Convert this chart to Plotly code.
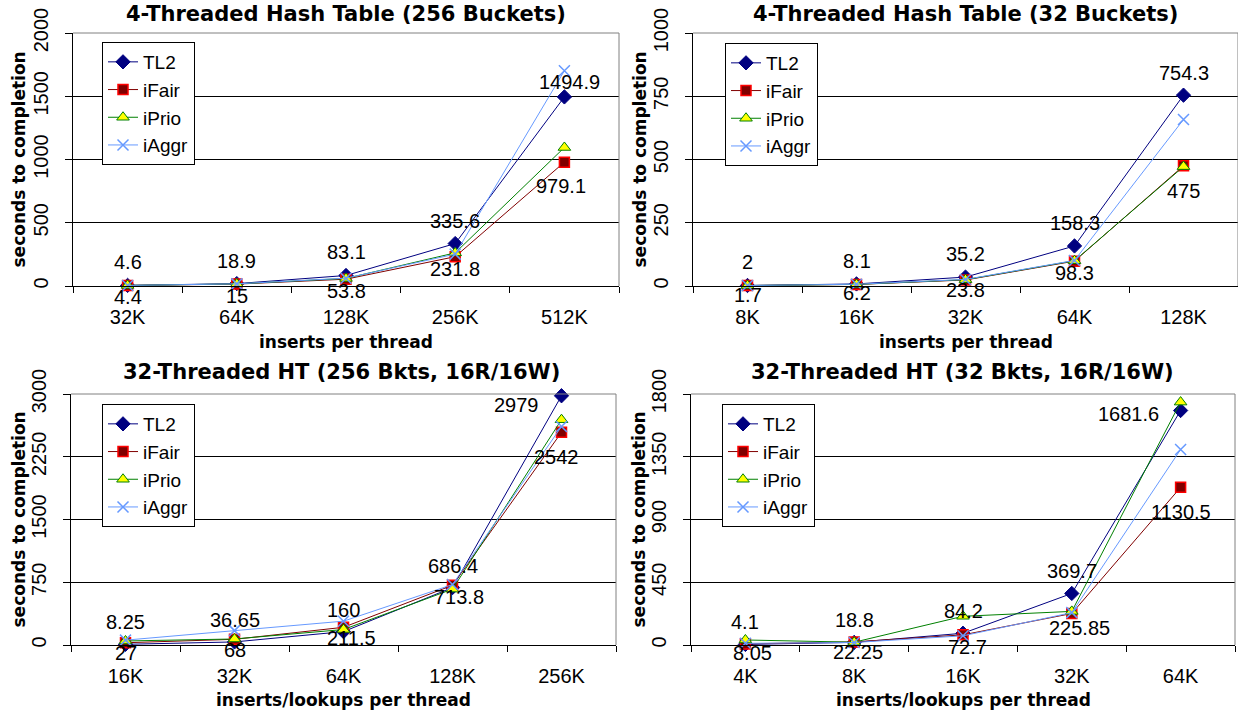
import plotly.graph_objects as go

# ---------------- data ----------------
series_names = ["TL2", "iFair", "iPrio", "iAggr"]

# Panel A: 4-Threaded Hash Table (256 Buckets)
cats_a = ["32K", "64K", "128K", "256K", "512K"]
tl2_a = [4.6, 18.9, 83.1, 335.6, 1494.9]
ifair_a = [4.4, 15, 53.8, 231.8, 979.1]
iprio_a = [4.5, 16.5, 60, 262, 1095]
iaggr_a = [4.5, 17, 62, 252, 1702]

# Panel B: 4-Threaded Hash Table (32 Buckets)
cats_b = ["8K", "16K", "32K", "64K", "128K"]
tl2_b = [2, 8.1, 35.2, 158.3, 754.3]
ifair_b = [1.7, 6.2, 23.8, 98.3, 475]
iprio_b = [1.8, 6.4, 25, 100, 472]
iaggr_b = [1.9, 7, 26, 101, 658]

# Panel C: 32-Threaded HT (256 Bkts, 16R/16W)
cats_c = ["16K", "32K", "64K", "128K", "256K"]
tl2_c = [8.25, 36.65, 160, 686.4, 2979]
ifair_c = [27, 68, 211.5, 713.8, 2542]
iprio_c = [48, 72, 185, 668, 2693]
iaggr_c = [58, 172, 285, 722, 2612]

# Panel D: 32-Threaded HT (32 Bkts, 16R/16W)
cats_d = ["4K", "8K", "16K", "32K", "64K"]
tl2_d = [4.1, 18.8, 84.2, 369.7, 1681.6]
ifair_d = [8.05, 22.25, 72.7, 225.85, 1130.5]
iprio_d = [36, 20, 206, 241, 1742]
iaggr_d = [12, 18, 66, 232, 1402]

y_tick_step = [500, 250, 750, 450]
y_max = [2000, 1000, 3000, 1800]

# ---------------- styles / layout ----------------
W, H = 1238, 715
ARIAL = "Liberation Sans, Arial, sans-serif"
VERD = "DejaVu Sans, Verdana, sans-serif"

styles = {
    "TL2": dict(line=dict(color="#000080", width=1),
                marker=dict(symbol="diamond", size=11, color="#000080",
                            line=dict(color="#000080", width=1))),
    "iFair": dict(line=dict(color="#800000", width=1),
                  marker=dict(symbol="square", size=10, color="#800000",
                              line=dict(color="#FF0000", width=1.5))),
    "iPrio": dict(line=dict(color="#008000", width=1),
                  marker=dict(symbol="triangle-up", size=11, color="#FFFF00",
                              line=dict(color="#008000", width=1))),
    "iAggr": dict(line=dict(color="#6699FF", width=1),
                  marker=dict(symbol="x-thin", size=11, color="#6699FF",
                              line=dict(color="#6699FF", width=1.5))),
}

panels = [
    dict(title="4-Threaded Hash Table (256 Buckets)", xtitle="inserts per thread",
         cats=cats_a, data=[tl2_a, ifair_a, iprio_a, iaggr_a],
         box=(73, 619, 33, 286), title_xy=(346, 14), ytitle_x=18, xtitle_y=342,
         legend_xy=(102, 42),
         tl2_off=[(0, 23)] * 4 + [(5, 15)],
         ifair_off=[(0, -12)] * 4 + [(-3, -24)]),
    dict(title="4-Threaded Hash Table (32 Buckets)", xtitle="inserts per thread",
         cats=cats_b, data=[tl2_b, ifair_b, iprio_b, iaggr_b],
         box=(693, 1238, 33, 286), title_xy=(965, 14), ytitle_x=639, xtitle_y=342,
         legend_xy=(725, 43),
         tl2_off=[(0, 23)] * 4 + [(0, 22)],
         ifair_off=[(0, -9), (0, -9), (0, -10), (0, -12), (0, -25)]),
    dict(title="32-Threaded HT (256 Bkts, 16R/16W)", xtitle="inserts/lookups per thread",
         cats=cats_c, data=[tl2_c, ifair_c, iprio_c, iaggr_c],
         box=(71, 616, 394, 645), title_xy=(341, 372), ytitle_x=18, xtitle_y=700,
         legend_xy=(102, 404),
         tl2_off=[(0, 22)] * 4 + [(-45, -9)],
         ifair_off=[(0, -10), (0, -11), (8, -11), (6, -12), (-5, -25)]),
    dict(title="32-Threaded HT (32 Bkts, 16R/16W)", xtitle="inserts/lookups per thread",
         cats=cats_d, data=[tl2_d, ifair_d, iprio_d, iaggr_d],
         box=(691, 1235, 394, 645), title_xy=(962, 372), ytitle_x=638, xtitle_y=700,
         legend_xy=(722, 404),
         tl2_off=[(0, 22)] * 4 + [(-52, -3)],
         ifair_off=[(7, -9), (4, -10), (4, -12), (8, -14), (0, -25)]),
]

fig = go.Figure()
annotations = []
shapes = []
layout = {}

for i, p in enumerate(panels):
    n = "" if i == 0 else str(i + 1)
    xid, yid = "x" + n, "y" + n
    leg = "legend" + n
    x0, x1, y0, y1 = p["box"]

    for name, vals in zip(series_names, p["data"]):
        st = styles[name]
        fig.add_trace(go.Scatter(
            x=p["cats"], y=vals, name=name, mode="lines+markers",
            line=st["line"], marker=st["marker"], xaxis=xid, yaxis=yid,
            legend=leg, cliponaxis=False, hoverinfo="skip"))

    layout["xaxis" + n] = dict(
        domain=[x0 / W, x1 / W], anchor=yid, type="category", automargin=False,
        range=[-0.5, len(p["cats"]) - 0.5], showgrid=False, zeroline=False,
        showline=True, linecolor="black", linewidth=1,
        ticks="outside", tickson="boundaries", ticklen=6, tickcolor="black",
        tickfont=dict(family=ARIAL, size=20, color="black"),
        ticklabelstandoff=13, fixedrange=True)
    layout["yaxis" + n] = dict(
        domain=[1 - y1 / H, 1 - y0 / H], anchor=xid, automargin=False,
        range=[0, y_max[i]], dtick=y_tick_step[i], tick0=0,
        showgrid=True, gridcolor="black", gridwidth=1, zeroline=False,
        showline=True, linecolor="black", linewidth=1,
        ticks="outside", ticklen=7, tickcolor="black", tickangle=-90,
        tickfont=dict(family=ARIAL, size=20, color="black"),
        ticklabelstandoff=9, fixedrange=True)

    layout[leg] = dict(
        x=p["legend_xy"][0] / W, y=1 - p["legend_xy"][1] / H,
        xanchor="left", yanchor="top", bgcolor="white",
        bordercolor="black", borderwidth=1, itemwidth=30,
        font=dict(family=ARIAL, size=19, color="black"),
        tracegroupgap=0, traceorder="normal")

    # plot-area border (top & right, grey)
    shapes.append(dict(type="line", xref=xid + " domain", yref=yid + " domain",
                       x0=0, x1=1, y0=1, y1=1, line=dict(color="#808080", width=1),
                       layer="above"))
    shapes.append(dict(type="line", xref=xid + " domain", yref=yid + " domain",
                       x0=1, x1=1, y0=0, y1=1, line=dict(color="#808080", width=1),
                       layer="above"))

    # titles
    annotations.append(dict(text="<b>" + p["title"] + "</b>", xref="paper", yref="paper",
                            x=p["title_xy"][0] / W, y=1 - p["title_xy"][1] / H,
                            xanchor="center", yanchor="middle", showarrow=False,
                            font=dict(family=VERD, size=21, color="black")))
    annotations.append(dict(text="<b>" + p["xtitle"] + "</b>", xref="paper", yref="paper",
                            x=(x0 + x1) / 2 / W, y=1 - p["xtitle_y"] / H,
                            xanchor="center", yanchor="middle", showarrow=False,
                            font=dict(family=VERD, size=17, color="black")))
    annotations.append(dict(text="<b>seconds to completion</b>", xref="paper", yref="paper",
                            x=p["ytitle_x"] / W, y=1 - (y0 + y1) / 2 / H, textangle=-90,
                            xanchor="center", yanchor="middle", showarrow=False,
                            font=dict(family=VERD, size=17, color="black")))

    # data labels (TL2 and iFair)
    for vals, offs in ((p["data"][0], p["tl2_off"]), (p["data"][1], p["ifair_off"])):
        for c, v, (dx, dy) in zip(p["cats"], vals, offs):
            annotations.append(dict(text=f"{v:g}", xref=xid, yref=yid, x=c, y=v,
                                    xshift=dx, yshift=dy, showarrow=False,
                                    xanchor="center", yanchor="middle",
                                    font=dict(family=ARIAL, size=20, color="black")))

fig.update_layout(
    width=W, height=H, margin=dict(l=0, r=0, t=0, b=0, autoexpand=False),
    paper_bgcolor="white", plot_bgcolor="white",
    annotations=annotations, shapes=shapes, **layout)

fig.write_html("out.html")
